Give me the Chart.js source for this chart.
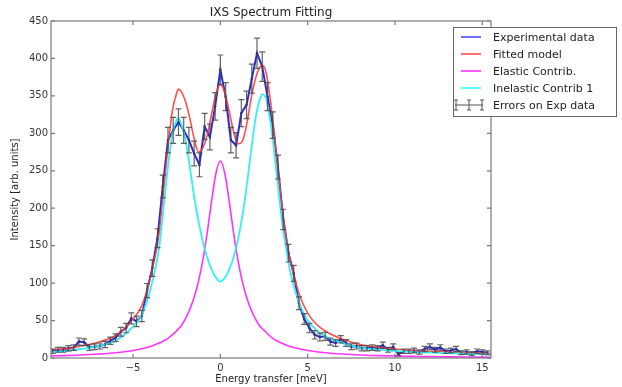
<!DOCTYPE html>
<html><head><meta charset="utf-8">
<style>html,body{margin:0;padding:0;background:#fff;}#wrap{width:622px;height:387px;position:relative;}</style>
<script src="https://cdn.jsdelivr.net/npm/chart.js@4.4.1/dist/chart.umd.min.js"></script>
</head><body><div id="wrap"><canvas id="c" width="622" height="387"></canvas></div>
<script>
// ---- data ----
const expX = [-9.6,-9.3,-9.0,-8.7,-8.4,-8.1,-7.8,-7.5,-7.2,-6.9,-6.6,-6.3,-6.0,-5.7,-5.4,-5.1,-4.8,-4.5,-4.2,-3.9,-3.6,-3.3,-3.0,-2.7,-2.4,-2.1,-1.8,-1.5,-1.2,-0.9,-0.6,-0.3,0.0,0.3,0.6,0.9,1.2,1.5,1.8,2.1,2.4,2.7,3.0,3.3,3.6,3.9,4.2,4.5,4.8,5.1,5.4,5.7,6.0,6.3,6.6,6.9,7.2,7.5,7.8,8.1,8.4,8.7,9.0,9.3,9.6,9.9,10.2,10.5,10.8,11.1,11.4,11.7,12.0,12.3,12.6,12.9,13.2,13.5,13.8,14.1,14.4,14.7,15.0,15.3];
const expY = [9,11,11,13,14,22,21,14,15,16,18,23,27,35,40,53,49,56,90,120,160,229,291,304,315,304,291,273,258,309,295,336,385,349,291,284,327,338,373,407,389,349,311,255,185,140,113,73,52,40,31,28,29,22,20,25,20,15,16,13,13,14,13,17,11,15,5,9,9,10,8,12,15,11,14,9,10,12,7,8,6,9,8,7];
const expErr = [3,3.3,3.3,3.6,3.7,4.7,4.6,3.7,3.9,4,4.2,4.8,5.2,5.9,6.3,7.3,7,7.5,9.5,11,12.6,15.1,17,17.4,17.7,17.4,17,16.5,16,17.6,17.2,18.3,19.6,18.7,17,16.9,18.1,18.4,19.3,20.2,19.7,18.7,17.6,16,13.6,11.8,10.6,8.5,7.2,6.3,5.6,5.3,5.4,4.7,4.5,5,4.5,3.9,4,3.6,3.6,3.7,3.6,4.1,3.3,3.9,2.2,3,3,3.2,2.8,3.5,3.9,3.3,3.7,3,3.2,3.5,2.6,2.8,2.4,3,2.8,2.6];

const modelX = [-9.7,-9,-8,-7,-6,-5,-4.5,-4,-3.5,-3.25,-3,-2.75,-2.5,-2.4,-2.25,-2,-1.75,-1.5,-1.25,-1,-0.75,-0.5,-0.25,0,0.25,0.5,0.75,1,1.25,1.5,1.75,2,2.25,2.4,2.6,2.8,3,3.25,3.5,3.75,4,4.5,5,5.5,6,7,8,9,10,11,12,13,14,15.5];
const fitY = [11,12,16,21,30,52,70,108,168,225,282,330,354,359,356,343,320,293,275,281,298,326,353,365,355,330,303,286,289,311,345,372,388,391,383,355,318,263,208,165,130,86,60,45,36,25,18,14.5,12,10,9,8,7,6];
const elasticY = [2.8,3.2,4.0,5.3,7.1,10.1,12.4,15.5,19.9,22.7,26.3,31.1,36.3,39,42.8,52.6,65,81,103,131.5,168,210,247,263,247,210,168,131.5,103,81,65,52.6,42.8,39,35,30,26.3,22.7,19.9,17.4,15.5,12.4,10.1,8.4,7.1,5.3,4.0,3.2,2.6,2.2,1.8,1.55,1.3,1.1];
const inelasticY = [8.2,8.8,12,15.7,23,42,57.6,92.5,148,202,256,299,318,320,313,292,255,215,182,155,134,118,107,102,107,118,134,157,188,228,275,318,345,352,348,325,292,240,188,148,115,74,50,37,29,20,14,11.3,9.4,7.8,7.2,6.4,5.7,4.9];

const xTicks = [-5,0,5,10,15];
const yTicks = [0,50,100,150,200,250,300,350,400,450];
const legendLabels = ['Experimental data','Fitted model','Elastic Contrib.','Inelastic Contrib 1','Errors on Exp data'];
const titleText = 'IXS Spectrum Fitting';
const xTitle = 'Energy transfer [meV]';
const yTitle = 'Intensity [arb. units]';

const pts = (xs, ys) => xs.map((x, i) => ({x, y: ys[i]}));
const FONT = 'DejaVu Sans';

const overlay = {
  id: 'overlay',
  afterDatasetsDraw(chart) {
    const {ctx, chartArea: a, scales: {x, y}} = chart;
    ctx.save();
    // error bars
    ctx.beginPath(); ctx.rect(a.left, a.top, a.right - a.left, a.bottom - a.top); ctx.clip();
    ctx.strokeStyle = 'rgba(70,70,70,0.85)'; ctx.lineWidth = 1.2;
    for (let i = 0; i < expX.length; i++) {
      const px = x.getPixelForValue(expX[i]);
      const y1 = y.getPixelForValue(expY[i] - expErr[i]);
      const y2 = y.getPixelForValue(expY[i] + expErr[i]);
      ctx.beginPath();
      ctx.moveTo(px, y1); ctx.lineTo(px, y2);
      ctx.moveTo(px - 3, y1); ctx.lineTo(px + 3, y1);
      ctx.moveTo(px - 3, y2); ctx.lineTo(px + 3, y2);
      ctx.stroke();
    }
    ctx.restore();
    ctx.save();
    // frame
    ctx.strokeStyle = '#7a7a7a'; ctx.lineWidth = 1.2;
    ctx.strokeRect(a.left, a.top, a.right - a.left, a.bottom - a.top);
    // inward ticks
    ctx.beginPath();
    xTicks.forEach(v => { const px = x.getPixelForValue(v);
      ctx.moveTo(px, a.bottom); ctx.lineTo(px, a.bottom - 4);
      ctx.moveTo(px, a.top); ctx.lineTo(px, a.top + 4); });
    yTicks.forEach(v => { const py = y.getPixelForValue(v);
      ctx.moveTo(a.left, py); ctx.lineTo(a.left + 4, py);
      ctx.moveTo(a.right, py); ctx.lineTo(a.right - 4, py); });
    ctx.stroke();
    // texts
    ctx.fillStyle = '#222';
    ctx.textAlign = 'center'; ctx.textBaseline = 'middle';
    ctx.font = '12px "' + FONT + '"';
    ctx.fillText(titleText, (a.left + a.right) / 2, 13);
    ctx.font = '10px "' + FONT + '"';
    ctx.fillText(xTitle, (a.left + a.right) / 2, 379);
    ctx.save(); ctx.translate(15, (a.top + a.bottom) / 2); ctx.rotate(-Math.PI / 2);
    ctx.fillText(yTitle, 0, 0); ctx.restore();
    // legend
    const L = 453, T = 27, W = 163, H = 89;
    ctx.fillStyle = '#fff'; ctx.fillRect(L, T, W, H);
    ctx.strokeStyle = '#666'; ctx.lineWidth = 1; ctx.strokeRect(L + 0.5, T + 0.5, W, H);
    const cols = ['rgba(110,110,255,1)', 'rgba(255,110,110,1)', 'rgba(255,90,255,1)', 'rgba(90,255,255,1)'];
    ctx.font = '11px "' + FONT + '"'; ctx.textAlign = 'left';
    legendLabels.forEach((t, i) => {
      const yy = 37 + i * 17;
      if (i < 4) {
        ctx.strokeStyle = cols[i]; ctx.lineWidth = 2;
        ctx.beginPath(); ctx.moveTo(461, yy); ctx.lineTo(481, yy); ctx.stroke();
      } else {
        ctx.strokeStyle = '#555'; ctx.lineWidth = 1;
        ctx.beginPath(); ctx.moveTo(455, yy); ctx.lineTo(483, yy);
        [456, 469, 482].forEach(xx => { ctx.moveTo(xx, yy - 5); ctx.lineTo(xx, yy + 5);
          ctx.moveTo(xx - 2, yy - 5); ctx.lineTo(xx + 2, yy - 5);
          ctx.moveTo(xx - 2, yy + 5); ctx.lineTo(xx + 2, yy + 5); });
        ctx.stroke();
      }
      ctx.fillStyle = '#222'; ctx.fillText(t, 493, yy + 1);
    });
    ctx.restore();
  }
};

new Chart(document.getElementById('c'), {
  type: 'scatter',
  data: { datasets: [
    { label: legendLabels[0], data: pts(expX, expY), showLine: true, borderColor: 'rgba(20,20,200,0.9)', borderWidth: 2, pointRadius: 1.2, pointBackgroundColor: 'rgba(20,20,200,0.9)', pointBorderWidth: 0, tension: 0, order: 4 },
    { label: legendLabels[1], data: pts(modelX, fitY), showLine: true, borderColor: 'rgba(255,60,60,0.9)', borderWidth: 1.6, pointRadius: 0, cubicInterpolationMode: 'monotone', order: 3 },
    { label: legendLabels[2], data: pts(modelX, elasticY), showLine: true, borderColor: 'rgba(255,40,255,0.95)', borderWidth: 1.6, pointRadius: 0, cubicInterpolationMode: 'monotone', order: 2 },
    { label: legendLabels[3], data: pts(modelX, inelasticY), showLine: true, borderColor: 'rgba(40,240,240,0.95)', borderWidth: 1.8, pointRadius: 0, cubicInterpolationMode: 'monotone', order: 1 }
  ]},
  options: {
    responsive: false, animation: false, devicePixelRatio: 1,
    layout: { padding: { left: 0, top: 21, right: 131, bottom: 0 } },
    plugins: { legend: { display: false }, tooltip: { enabled: false } },
    scales: {
      x: { type: 'linear', min: -9.7, max: 15.5,
        afterFit: s => { s.height = 29; },
        afterBuildTicks: s => { s.ticks = xTicks.map(v => ({value: v})); },
        grid: { display: false, drawTicks: false }, border: { display: false },
        ticks: { padding: 4, color: '#333', font: { family: FONT, size: 10 }, callback: v => (v < 0 ? '\u2212' + Math.abs(v) : String(v)) } },
      y: { type: 'linear', min: 0, max: 450,
        afterFit: s => { s.width = 51; },
        afterBuildTicks: s => { s.ticks = yTicks.map(v => ({value: v})); },
        grid: { display: false, drawTicks: false }, border: { display: false },
        ticks: { padding: 3, color: '#333', font: { family: FONT, size: 10 } } }
    }
  },
  plugins: [overlay]
});
</script></body></html>
